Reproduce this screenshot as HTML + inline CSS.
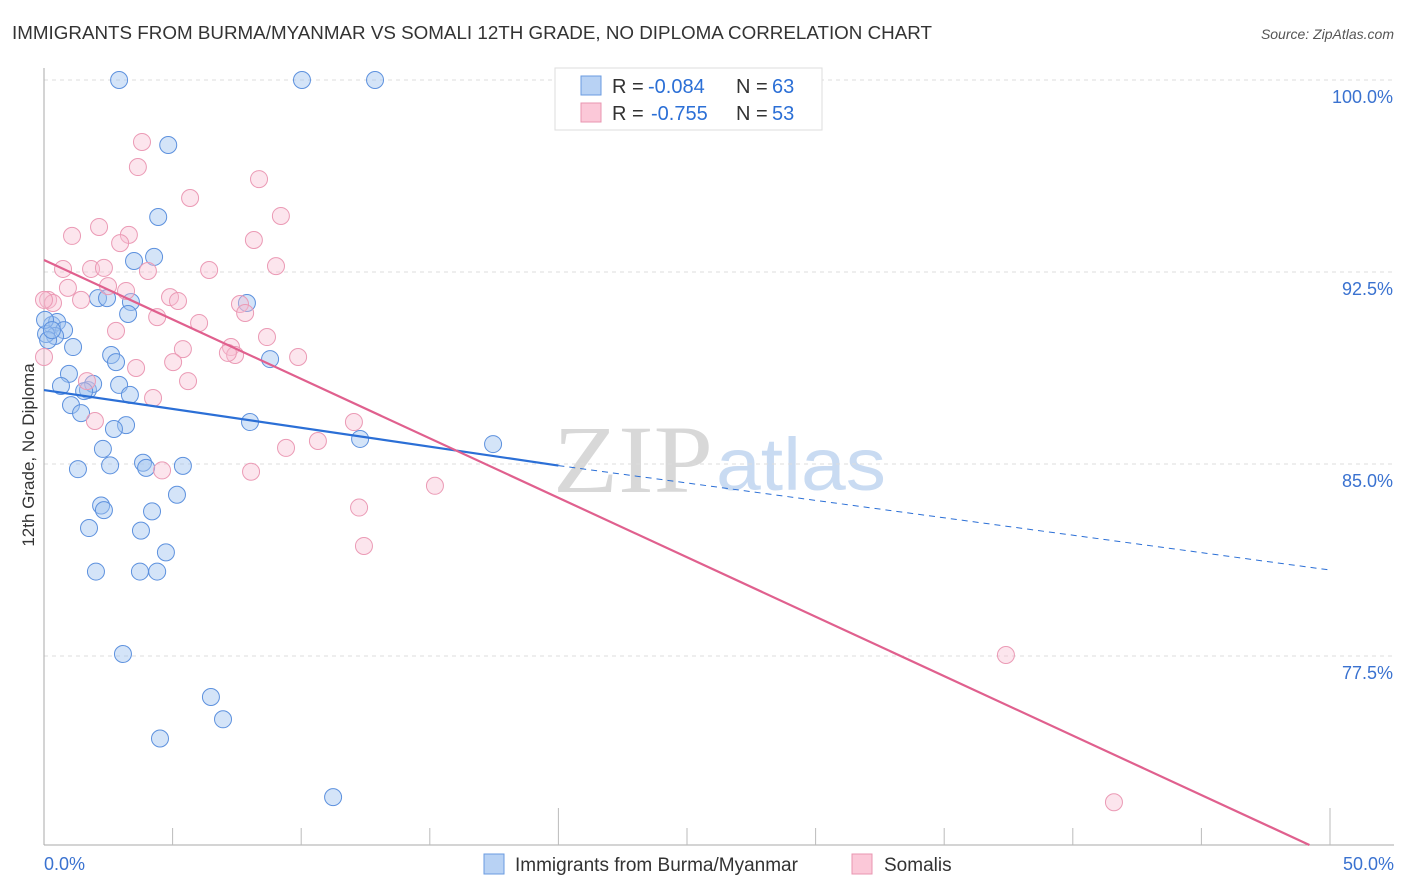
<!DOCTYPE html>
<html><head><meta charset="utf-8"><style>
body{margin:0;background:#fff;font-family:"Liberation Sans",sans-serif}
svg{display:block}
</style></head><body>
<svg id="chart" width="1406" height="892" xmlns="http://www.w3.org/2000/svg">
<text x="12" y="39" font-size="18" fill="#333" textLength="920" lengthAdjust="spacingAndGlyphs">IMMIGRANTS FROM BURMA/MYANMAR VS SOMALI 12TH GRADE, NO DIPLOMA CORRELATION CHART</text>
<text x="1394" y="39" font-size="14" fill="#555" text-anchor="end" font-style="italic">Source: ZipAtlas.com</text>
<g>
<text x="553" y="492" font-size="96" fill="#d8d8d8" font-family="Liberation Serif,serif" textLength="160" lengthAdjust="spacingAndGlyphs">ZIP</text>
<text x="716" y="490" font-size="74" fill="#c9dbf2" textLength="170" lengthAdjust="spacingAndGlyphs">atlas</text>
</g>
<g id="grid"></g>
<g id="axes"></g>
<g id="pts"></g>
<g id="lines"></g>
<text transform="translate(34,455) rotate(-90)" font-size="17" fill="#333" text-anchor="middle">12th Grade, No Diploma</text>
<g>
<rect x="555" y="68" width="267" height="62" fill="#fff" stroke="#ddd"/>
<rect x="581" y="76" width="20" height="19" fill="#b8d2f4" stroke="#6a9be0"/>
<rect x="581" y="103" width="20" height="19" fill="#fbc8d8" stroke="#e896b0"/>
<text x="612" y="93" font-size="20" fill="#333">R =</text>
<text x="648" y="93" font-size="20" fill="#2b6fd6">-0.084</text>
<text x="736" y="93" font-size="20" fill="#333">N =</text>
<text x="772" y="93" font-size="20" fill="#2b6fd6">63</text>
<text x="612" y="120" font-size="20" fill="#333">R =</text>
<text x="651" y="120" font-size="20" fill="#2b6fd6">-0.755</text>
<text x="736" y="120" font-size="20" fill="#333">N =</text>
<text x="772" y="120" font-size="20" fill="#2b6fd6">53</text>
</g>
<g>
<rect x="484" y="854" width="20" height="20" fill="#b8d2f4" stroke="#6a9be0"/>
<text x="515" y="871" font-size="19" fill="#333">Immigrants from Burma/Myanmar</text>
<rect x="852" y="854" width="20" height="20" fill="#fbc8d8" stroke="#e896b0"/>
<text x="884" y="871" font-size="19" fill="#333">Somalis</text>
</g>
</svg>
<script>
const yTicks=[100,92.5,85,77.5];
const yTickLabels=["100.0%","92.5%","85.0%","77.5%"];
const xTickLabels=["0.0%","50.0%"];
const burmaX=[2.92,10.03,12.87,4.83,4.44,4.28,3.5,2.1,2.45,3.38,7.89,3.27,0.31,0.51,0.78,0.43,0.08,1.13,2.61,2.8,8.79,0.97,0.66,1.71,1.91,2.92,3.34,1.05,1.44,3.19,2.72,8.01,12.29,17.46,2.29,3.85,5.4,1.32,2.57,3.97,5.17,2.22,2.33,4.2,1.75,3.77,4.74,2.02,3.73,4.4,3.07,6.49,6.96,4.51,11.24,1.56,0.16,0.04,0.31];
const burmaY=[100,100,100,97.46,94.65,93.09,92.93,91.48,91.48,91.33,91.29,90.86,90.43,90.55,90.23,90,90.08,89.57,89.26,88.98,89.1,88.52,88.05,87.89,88.13,88.09,87.7,87.3,86.99,86.52,86.37,86.64,85.98,85.78,85.59,85.05,84.93,84.8,84.95,84.85,83.8,83.38,83.2,83.15,82.5,82.4,81.55,80.8,80.8,80.8,77.58,75.9,75.03,74.28,71.99,87.85,89.84,90.63,90.23];
const somaliX=[3.81,3.65,5.68,8.36,9.21,8.16,1.09,2.14,3.3,2.96,0.74,1.83,2.33,4.04,6.42,9.02,0.16,0.35,0.93,1.44,2.49,3.19,4.9,5.21,7.62,7.82,4.4,6.03,2.8,8.67,7.27,7.43,7.15,5.4,9.88,5.02,3.58,5.6,4.24,1.67,1.98,12.05,10.65,9.41,8.05,4.59,15.2,12.25,12.44,37.4,41.6,0,0];
const somaliY=[97.58,96.6,95.39,96.13,94.69,93.75,93.91,94.26,93.95,93.63,92.62,92.62,92.66,92.54,92.58,92.73,91.41,91.29,91.88,91.41,91.95,91.76,91.52,91.37,91.25,90.9,90.74,90.51,90.2,89.96,89.57,89.26,89.34,89.49,89.18,88.98,88.75,88.24,87.58,88.24,86.68,86.64,85.9,85.63,84.7,84.75,84.15,83.3,81.8,77.54,71.79,89.18,91.41];
const burmaLine=[[0,87.89],[20,84.94],[50,80.86]];
const somaliLine=[[0,92.97],[49.2,70.12]];
const NS="http://www.w3.org/2000/svg";
const X0=44,X1=1330,Ytop=80,Ybot=845,YMAX=100,YMIN=70.12;
const xs=v=>X0+v/50*(X1-X0);
const ys=v=>Ytop+(YMAX-v)/(YMAX-YMIN)*(Ybot-Ytop);
function mk(tag,attrs,parent){const e=document.createElementNS(NS,tag);for(const k in attrs)e.setAttribute(k,attrs[k]);parent.appendChild(e);return e;}
const grid=document.getElementById('grid'),axes=document.getElementById('axes'),pts=document.getElementById('pts'),lines=document.getElementById('lines');
yTicks.forEach((t,i)=>{
 const l=mk('line',{x1:X0,x2:1394,y1:ys(t),y2:ys(t),stroke:'#ddd','stroke-dasharray':'4,4'},grid);
 
 
 const tx=mk('text',{x:1393,y:ys(t)+23,'font-size':18,fill:'#3a72d0','text-anchor':'end'},grid);
 tx.textContent=yTickLabels[i];
 
 
});
let a=mk('line',{x1:X0,x2:X0,y1:68,y2:Ybot,stroke:'#aaa'},axes);


a=mk('line',{x1:X0,x2:1394,y1:Ybot,y2:Ybot,stroke:'#aaa'},axes);


for(let i=1;i<=10;i++){
 const x=xs(i*5);
 const t=mk('line',{x1:x,x2:x,y1:(i==4||i==10)?808:828,y2:Ybot,stroke:'#bbb'},axes);
 
 
}
[[0,'start',X0],[1,'end',1394]].forEach(([i,anc,x])=>{
 const t=mk('text',{x:x,y:870,'font-size':18,fill:'#3a72d0','text-anchor':anc},axes);
 t.textContent=xTickLabels[i];
 
 
});
burmaX.forEach((v,i)=>{
 const c=mk('circle',{cx:xs(v),cy:ys(burmaY[i]),r:8.5,fill:'rgba(160,196,240,0.45)',stroke:'#5d91de','stroke-width':1},pts);
 
 
});
somaliX.forEach((v,i)=>{
 const c=mk('circle',{cx:xs(v),cy:ys(somaliY[i]),r:8.5,fill:'rgba(248,190,210,0.4)',stroke:'#eb9ab5','stroke-width':1},pts);
 
 
});
let l=mk('line',{x1:xs(burmaLine[0][0]),y1:ys(burmaLine[0][1]),x2:xs(burmaLine[1][0]),y2:ys(burmaLine[1][1]),stroke:'#2b6fd6','stroke-width':2.2},lines);


l=mk('line',{x1:xs(burmaLine[1][0]),y1:ys(burmaLine[1][1]),x2:xs(burmaLine[2][0]),y2:ys(burmaLine[2][1]),stroke:'#2b6fd6','stroke-width':1,'stroke-dasharray':'6,5'},lines);


l=mk('line',{x1:xs(somaliLine[0][0]),y1:ys(somaliLine[0][1]),x2:xs(somaliLine[1][0]),y2:ys(somaliLine[1][1]),stroke:'#e0608e','stroke-width':2.2},lines);


</script>
</body></html>
